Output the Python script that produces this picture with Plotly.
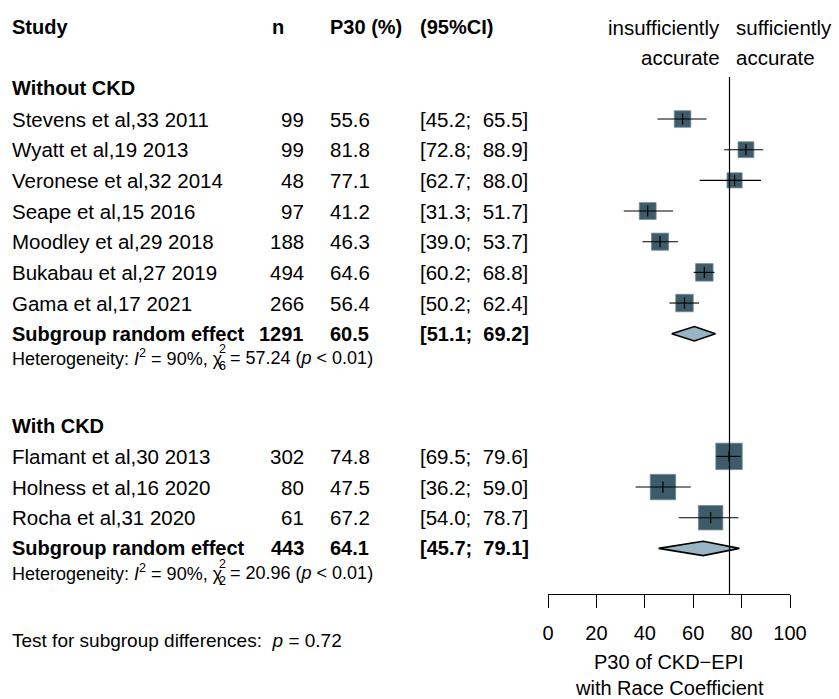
import plotly.graph_objects as go

# ---------------- data ----------------
studies = ["Stevens et al,33 2011", "Wyatt et al,19 2013", "Veronese et al,32 2014",
           "Seape et al,15 2016", "Moodley et al,29 2018", "Bukabau et al,27 2019",
           "Gama et al,17 2021",
           "Flamant et al,30 2013", "Holness et al,16 2020", "Rocha et al,31 2020"]
study_group = ["Without CKD"] * 7 + ["With CKD"] * 3
n_values = [99, 99, 48, 97, 188, 494, 266, 302, 80, 61]
p30 = [55.6, 81.8, 77.1, 41.2, 46.3, 64.6, 56.4, 74.8, 47.5, 67.2]
ci_low = [45.2, 72.8, 62.7, 31.3, 39.0, 60.2, 50.2, 69.5, 36.2, 54.0]
ci_high = [65.5, 88.9, 88.0, 51.7, 53.7, 68.8, 62.4, 79.6, 59.0, 78.7]
weights = [14.1, 12.9, 11.8, 14.6, 15.1, 15.8, 15.8, 36.0, 33.3, 30.7]  # % within subgroup (estimated)

groups = ["Without CKD", "With CKD"]
group_n = [1291, 443]
group_est = [60.5, 64.1]
group_low = [51.1, 45.7]
group_high = [69.2, 79.1]
het_i2 = [90, 90]
het_q = [57.24, 20.96]
het_df = [6, 2]
het_p = ["< 0.01", "< 0.01"]
subgroup_test_p = 0.72

x_ticks = [0, 20, 40, 60, 80, 100]
ref_value = 75
col_headers = ["Study", "n", "P30 (%)", "(95%CI)"]

# ---------------- layout constants ----------------
W, H = 839, 699
ROW0, ROWH = 27.0, 30.67
def p2r(p):
    return (p - ROW0) / ROWH

FONT = "Liberation Sans, Arial, Helvetica, sans-serif"
FS = 20.5
FS_B = 20
FS_HET = 18
FS_TEST = 19
SQ_COL = "#3d5b69"
DIA_COL = "#98b4c5"

X_STUDY, X_N_RIGHT, X_P30, X_CI = 10, 306, 328, 418

# assign rows
rows_study, rows_group, rows_sum, rows_het = [], [], [], []
r = 2
for g in groups:
    rows_group.append(r)
    r += 1
    for i, sg in enumerate(study_group):
        if sg == g:
            rows_study.append(r)
            r += 1
    rows_sum.append(r)
    rows_het.append(r + 0.79)
    r += 3
test_row = rows_sum[-1] + 3

fig = go.Figure()

# reference line
fig.add_shape(type="line", xref="x", yref="y", x0=ref_value, x1=ref_value,
              y0=p2r(77), y1=p2r(594), line=dict(color="black", width=1.2))

# squares
sizes = [4.4 * (w ** 0.5) for w in weights]
fig.add_trace(go.Scatter(x=p30, y=rows_study, mode="markers",
                         marker=dict(symbol="square", size=sizes, color=SQ_COL, opacity=1,
                                     line=dict(color="#6f8a97", width=0.8)),
                         hoverinfo="skip"))
# CI lines
cx, cy = [], []
for lo, hi, rr in zip(ci_low, ci_high, rows_study):
    cx += [lo, hi, None]
    cy += [rr, rr, None]
fig.add_trace(go.Scatter(x=cx, y=cy, mode="lines", line=dict(color="black", width=1.1),
                         hoverinfo="skip"))
# estimate ticks
fig.add_trace(go.Scatter(x=p30, y=rows_study, mode="markers",
                         marker=dict(symbol="line-ns", size=8, opacity=1,
                                     line=dict(color="black", width=1.2)),
                         hoverinfo="skip"))
# diamonds
hh = 7.2 / ROWH
for est, lo, hi, rr in zip(group_est, group_low, group_high, rows_sum):
    fig.add_trace(go.Scatter(x=[lo, est, hi, est, lo], y=[rr, rr - hh, rr, rr + hh, rr],
                             mode="lines", fill="toself", fillcolor=DIA_COL,
                             line=dict(color="black", width=1.6), hoverinfo="skip"))

ann = []
def txt(xpx, row, text, anchor="left", size=FS, bold=False, yshift=0):
    if bold:
        text = "<b>" + text + "</b>"
    ann.append(dict(xref="paper", x=xpx / W, yref="y", y=row, text=text,
                    xanchor=anchor, yanchor="middle", showarrow=False, yshift=yshift,
                    font=dict(family=FONT, size=size, color="black")))

# headers
txt(X_STUDY, 0, col_headers[0], size=FS_B, bold=True)
txt(270, 0, col_headers[1], size=FS_B, bold=True)
txt(X_P30, 0, col_headers[2], size=FS_B, bold=True)
txt(X_CI, 0, col_headers[3], size=FS_B, bold=True)
txt(722, 0, "insufficiently", anchor="right")
txt(722, 1, "accurate", anchor="right")
txt(734, 0, "sufficiently")
txt(734, 1, "accurate")

def ci_text(lo, hi):
    return f"[{lo:.1f};\u00a0 {hi:.1f}]"

for gi, g in enumerate(groups):
    txt(X_STUDY, rows_group[gi], g, size=FS_B, bold=True)
for i in range(len(studies)):
    rr = rows_study[i]
    txt(X_STUDY, rr, studies[i])
    txt(X_N_RIGHT, rr, str(n_values[i]), anchor="right")
    txt(X_P30, rr, f"{p30[i]:.1f}")
    txt(X_CI, rr, ci_text(ci_low[i], ci_high[i]))
for gi in range(len(groups)):
    rr = rows_sum[gi]
    txt(X_STUDY, rr, "Subgroup random effect", size=FS_B, bold=True)
    txt(X_N_RIGHT, rr, str(group_n[gi]), anchor="right", size=FS_B, bold=True)
    txt(X_P30, rr, f"{group_est[gi]:.1f}", size=FS_B, bold=True)
    txt(X_CI, rr, ci_text(group_low[gi], group_high[gi]), size=FS_B, bold=True)
    hr = rows_het[gi]
    txt(X_STUDY, hr, f"Heterogeneity: <i>I</i><sup>2</sup> = {het_i2[gi]}%, χ", size=FS_HET)
    txt(217, hr, "2", size=12.5, yshift=9)
    txt(217, hr, str(het_df[gi]), size=12.5, yshift=-8)
    txt(228, hr, f"= {het_q[gi]:.2f} (<i>p</i> {het_p[gi]})", size=FS_HET)

txt(X_STUDY, test_row, f"Test for subgroup differences:\u00a0 <i>p</i> = {subgroup_test_p}", size=FS_TEST)

# axis title
txt(669, p2r(662), "P30 of CKD\u2212EPI", anchor="center", size=20)
txt(669, p2r(688), "with Race Coefficient", anchor="center", size=20)

fig.update_layout(
    width=W, height=H, autosize=False,
    margin=dict(l=0, r=0, t=0, b=0, pad=0, autoexpand=False),
    paper_bgcolor="white", plot_bgcolor="white", showlegend=False,
    annotations=ann,
    xaxis=dict(domain=[548 / W, 790 / W], range=[0, 100], anchor="free",
               position=1 - 594 / H, showgrid=False, zeroline=False,
               showline=True, linecolor="black", linewidth=1,
               ticks="outside", ticklen=13, tickwidth=1, tickcolor="black",
               ticklabelstandoff=8, automargin=False,
               tickvals=x_ticks, ticktext=[str(t) for t in x_ticks],
               tickfont=dict(family=FONT, size=20, color="black")),
    yaxis=dict(domain=[0, 1], range=[p2r(H), p2r(0)], visible=False,
               showgrid=False, zeroline=False, automargin=False),
)

post = ("document.documentElement.style.overflow='hidden';"
        "document.body.style.margin='0';document.body.style.padding='0';"
        "document.body.style.overflow='hidden';"
        "var gd=document.getElementById('{plot_id}');"
        "Plotly.relayout(gd,{width:839,height:699});")

fig.write_html("out.html", config={"responsive": False, "displayModeBar": False},
               post_script=post)
